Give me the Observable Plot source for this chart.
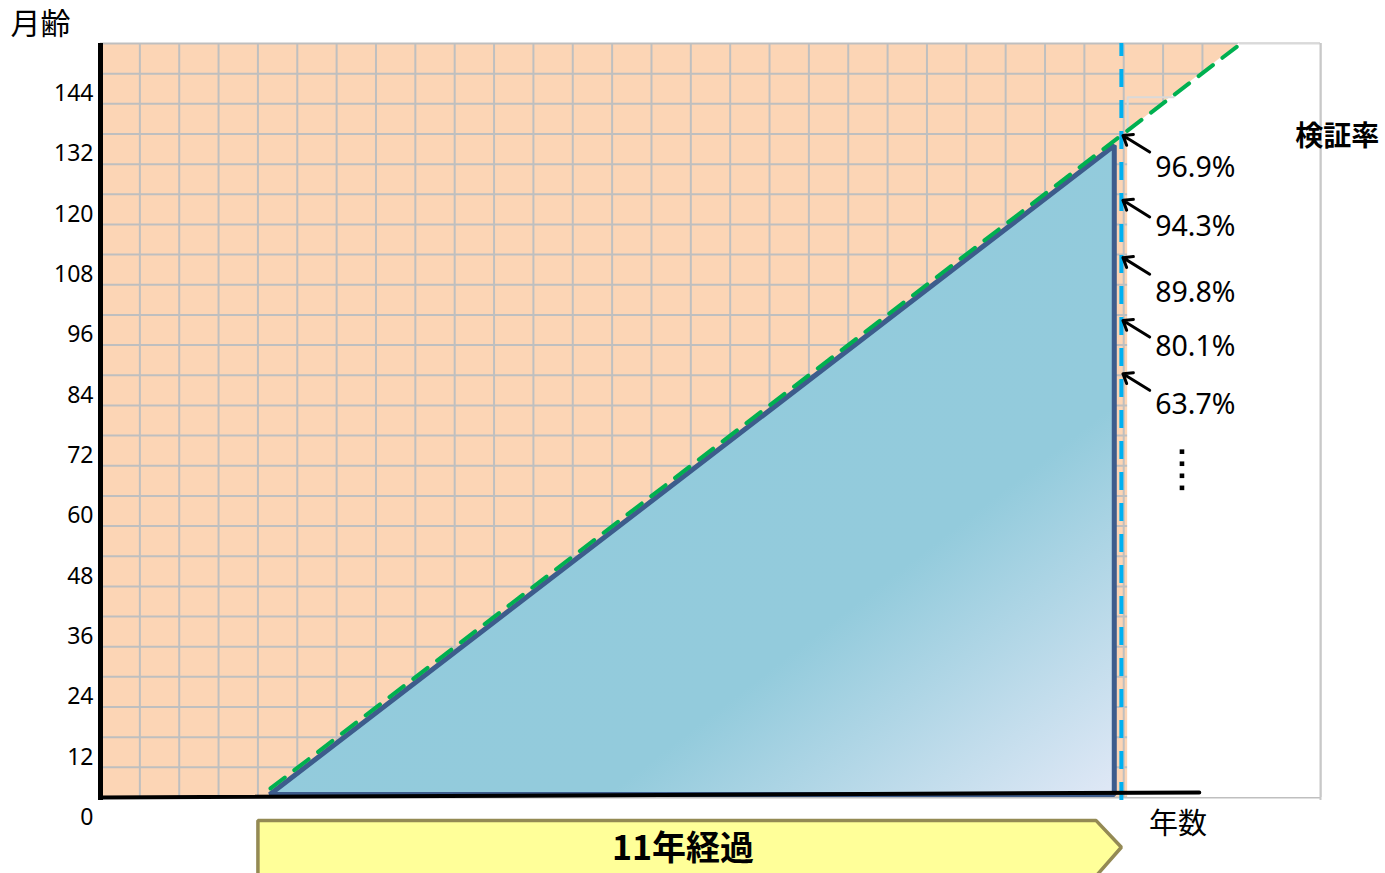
<!DOCTYPE html>
<html>
<head>
<meta charset="utf-8">
<script src="https://cdn.jsdelivr.net/npm/d3@7"></script>
<script src="https://cdn.jsdelivr.net/npm/@observablehq/plot@0.6"></script>
<style>
  html, body { margin: 0; padding: 0; background: #fff; }
  svg { overflow: visible; }
</style>
</head>
<body>
<div id="chart"></div>
<script>
// ---- data (x in years, y in months) ----
const yTicks = [0, 12, 24, 36, 48, 60, 72, 84, 96, 108, 120, 132, 144];
const gridXTicks = [0,0.5,1,1.5,2,2.5,3,3.5,4,4.5,5,5.5,6,6.5,7,7.5,8,8.5,9,9.5,10,10.5,11,11.5,12,12.5,13,13.5,14,14.5,15,15.5];
const gridYTicks = [0,6,12,18,24,30,36,42,48,54,60,66,72,78,84,90,96,102,108,114,120,126,132,138,144,150];
const triangleX = [2.15, 12.88, 12.88];
const triangleY = [0.6, 129.7, 0.6];
const guideX = [2.16, 14.49];
const guideY = [1.8, 150];
const whiteX = [13.05, 14.47, 15.5];
const whiteTop = [132.6, 150, 150];
const baseX = [0, 13.96];
const baseY = [0, 1.0];
const currentYear = 12.97;
const rateLabels = ["96.9%", "94.3%", "89.8%", "80.1%", "63.7%"];
const rateTips = [131.7, 118.8, 107.4, 94.9, 84.3];
const rateLabelY = [125.3, 113.6, 100.3, 89.7, 78.2];
const ellipsisY = [68.8, 66.4, 64.0, 61.6];
const elapsedX = [2.0, 12.65, 12.97, 12.65, 2.0];
const elapsedY = [-4.6, -4.6, -9.9, -15.6, -15.6];
const elapsedLabel = "11年経過";
const yTitle = "月齢";
const xTitle = "年数";
const rateTitle = "検証率";

const tri = triangleX.map((x, i) => ({x, y: triangleY[i]}));
const guide = guideX.map((x, i) => ({x, y: guideY[i]}));
const white = whiteX.map((x, i) => ({x, y1: 0, y2: whiteTop[i]}));
const base = baseX.map((x, i) => ({x, y: baseY[i]}));
const rates = rateLabels.map((label, i) => ({label, tip: rateTips[i], ly: rateLabelY[i]}));
const elapsed = elapsedX.map((x, i) => ({x, y: elapsedY[i]}));

const latin = "'Noto Sans', 'Noto Sans CJK JP', sans-serif";
const cjk = "'Noto Sans CJK JP', 'Noto Sans', sans-serif";

const svg = Plot.plot({
  width: 1385,
  height: 873,
  marginLeft: 100,
  marginRight: 65,
  marginTop: 43,
  marginBottom: 76,
  x: {domain: [0, 15.5], axis: null},
  y: {domain: [0, 150], axis: null},
  style: {background: "white", overflow: "visible"},
  marks: [
    Plot.frame({fill: "#fcd5b5", stroke: "none"}),
    Plot.gridX({ticks: gridXTicks, stroke: "#bfbfbf", strokeOpacity: 1, strokeWidth: 2}),
    Plot.gridY({ticks: gridYTicks, stroke: "#bfbfbf", strokeOpacity: 1, strokeWidth: 2}),
    Plot.areaY(white, {x: "x", y1: "y1", y2: "y2", fill: "white", curve: "linear"}),
    Plot.ruleY([150], {x1: 14.47, x2: 15.5, stroke: "#d9d9d9", strokeWidth: 2}),
    Plot.ruleX([15.5], {y1: -0.6, y2: 150, stroke: "#c8c8c8", strokeWidth: 2}),
    Plot.ruleX([13.05], {y1: 132.7, y2: 139.3, stroke: "#d9d9d9", strokeWidth: 2}),
    Plot.ruleY([139.3], {x1: 13.05, x2: 13.65, stroke: "#d9d9d9", strokeWidth: 2}),
    Plot.line(tri, {x: "x", y: "y", curve: "linear-closed", fill: "url(#triGrad)", stroke: "#3d5c8c", strokeWidth: 5, strokeLinejoin: "miter"}),
    Plot.line(guide, {x: "x", y: "y", stroke: "#00b050", strokeWidth: 4, strokeDasharray: "18,12"}),
    Plot.ruleX([currentYear], {y1: -0.6, y2: 150, stroke: "#00b0f0", strokeWidth: 4, strokeDasharray: "18,13"}),
    Plot.ruleX([0], {y1: -0.6, y2: 150, stroke: "black", strokeWidth: 5}),
    Plot.line(base, {x: "x", y: "y", stroke: "black", strokeWidth: 4}),
    Plot.arrow(rates, {x1: 13.33, y1: d => d.tip - 3.3, x2: 12.99, y2: "tip", stroke: "black", strokeWidth: 3, headLength: 20, headAngle: 75}),
    Plot.text(rates, {x: 13.4, y: "ly", text: "label", textAnchor: "start", fontSize: 28.5, fontFamily: latin, fill: "black"}),
    Plot.dot(ellipsisY, {x: 13.74, y: d => d, symbol: "square", r: 2.6, fill: "black", stroke: "none"}),
    Plot.text(yTicks, {x: 0, y: d => d, text: d => String(d), dx: -7, dy: 20, textAnchor: "end", fontSize: 23, fontFamily: latin, fill: "black"}),
    Plot.line(elapsed, {x: "x", y: "y", curve: "linear-closed", fill: "#ffff99", stroke: "#948a54", strokeWidth: 3.5, strokeLinejoin: "miter"}),
    Plot.text([elapsedLabel], {x: 7.4, y: -10.3, fontSize: 34, fontWeight: "bold", fontFamily: cjk, fill: "black"}),
    Plot.text([xTitle], {x: 13.32, y: -5.4, textAnchor: "start", fontSize: 29, fontFamily: cjk, fill: "black"}),
    Plot.text([rateTitle], {x: 15.18, y: 131.3, textAnchor: "start", fontSize: 28, fontWeight: "bold", fontFamily: cjk, fill: "black"}),
    Plot.text([yTitle], {frameAnchor: "top-left", dx: -90, dy: -19, lineAnchor: "middle", textAnchor: "start", fontSize: 30, fontFamily: cjk, fill: "black"})
  ]
});

const NS = "http://www.w3.org/2000/svg";
const defs = document.createElementNS(NS, "defs");
const grad = document.createElementNS(NS, "linearGradient");
grad.setAttribute("id", "triGrad");
grad.setAttribute("x1", "0"); grad.setAttribute("y1", "0");
grad.setAttribute("x2", "1"); grad.setAttribute("y2", "1");
[["0", "#92cbdc"], ["0.7", "#93cbdc"], ["1", "#e0e8f6"]].forEach(([o, c]) => {
  const s = document.createElementNS(NS, "stop");
  s.setAttribute("offset", o); s.setAttribute("stop-color", c);
  grad.appendChild(s);
});
defs.appendChild(grad);
svg.insertBefore(defs, svg.firstChild);

document.getElementById("chart").appendChild(svg);
</script>
</body>
</html>
